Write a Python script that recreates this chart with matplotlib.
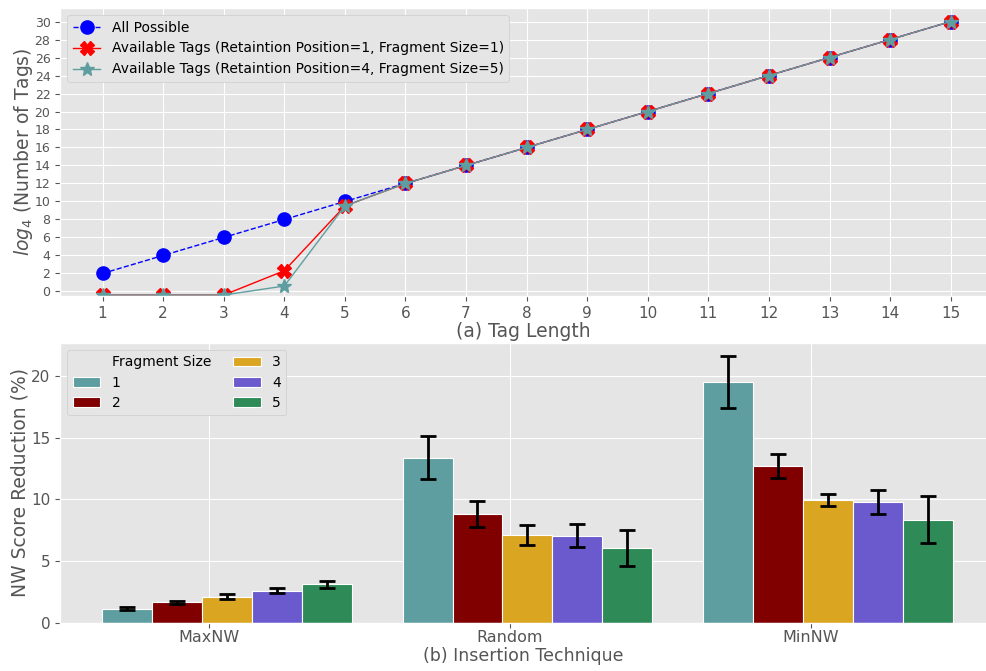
import numpy as np
import matplotlib
matplotlib.use('Agg')
import matplotlib.pyplot as plt
from matplotlib.patches import Rectangle

plt.style.use('ggplot')

# (a) tag length data
tag_len = list(range(1, 16))
all_possible = [2, 4, 6, 8, 10, 12, 14, 16, 18, 20, 22, 24, 26, 28, 30]
avail_p1_f1 = [-0.4, -0.4, -0.4, 2.3, 9.5, 12, 14, 16, 18, 20, 22, 24, 26, 28, 30]
avail_p4_f5 = [-0.4, -0.4, -0.4, 0.6, 9.5, 12, 14, 16, 18, 20, 22, 24, 26, 28, 30]

# (b) insertion technique data
techniques = ['MaxNW', 'Random', 'MinNW']
frag_sizes = ['1', '2', '3', '4', '5']
means = [
    [1.15, 13.4, 19.5],
    [1.65, 8.85, 12.7],
    [2.1, 7.1, 9.95],
    [2.6, 7.05, 9.8],
    [3.1, 6.05, 8.35],
]
errs = [
    [0.15, 1.75, 2.1],
    [0.15, 1.05, 1.0],
    [0.2, 0.8, 0.5],
    [0.2, 0.95, 0.95],
    [0.25, 1.45, 1.9],
]
bar_colors = ['cadetblue', 'maroon', 'goldenrod', 'slateblue', 'seagreen']

fig = plt.figure(figsize=(9.87, 6.71), dpi=100)
ax1 = fig.add_axes([0.061, 0.559, 0.939, 0.429])
ax2 = fig.add_axes([0.061, 0.072, 0.939, 0.417])

ax1.plot(tag_len, all_possible, 'o--', color='blue', markersize=9.5, linewidth=1,
         label='All Possible')
ax1.plot(tag_len, avail_p1_f1, 'X-', color='red', markersize=9.5, linewidth=1,
         label='Available Tags (Retaintion Position=1, Fragment Size=1)')
ax1.plot(tag_len, avail_p4_f5, '*-', color='cadetblue', markersize=10, linewidth=1,
         label='Available Tags (Retaintion Position=4, Fragment Size=5)')
ax1.set_xlim(0.3, 15.6)
ax1.set_ylim(-0.5, 31.5)
ax1.set_xticks(tag_len)
ax1.set_yticks(range(0, 31, 2))
ax1.tick_params(axis='x', labelsize=11)
ax1.tick_params(axis='y', labelsize=9)
ax1.set_xlabel('(a) Tag Length', fontsize=13.5, labelpad=1)
ax1.set_ylabel('$log_4$ (Number of Tags)', fontsize=13.5, labelpad=0)
ax1.legend(loc='upper left', fontsize=10, facecolor='#e5e5e5', framealpha=1)

x = np.arange(len(techniques))
w = 0.166
for i in range(len(frag_sizes)):
    ax2.bar(x + (i - 2) * w + 0.058, means[i], width=w, color=bar_colors[i],
            edgecolor='white', linewidth=0.8, label=frag_sizes[i],
            yerr=errs[i], capsize=6,
            error_kw=dict(ecolor='black', elinewidth=2, capthick=2))
ax2.set_xticks(x)
ax2.set_xticklabels(techniques)
ax2.set_xlim(-0.496, 2.587)
ax2.set_ylim(0, 22.7)
ax2.tick_params(axis='x', labelsize=11.5, pad=2)
ax2.tick_params(axis='y', labelsize=11)
ax2.set_xlabel('(b) Insertion Technique', fontsize=12.5, labelpad=1)
ax2.set_ylabel('NW Score Reduction (%)', fontsize=13.5, labelpad=1)

# legend title sits in the first column as a blank entry
handles, labels = ax2.get_legend_handles_labels()
blank = Rectangle((0, 0), 1, 1, fc='none', ec='none')
ax2.legend([blank] + handles, ['Fragment Size'] + labels, loc='upper left',
           ncol=2, fontsize=10, labelspacing=0.45, columnspacing=1.6,
           facecolor='#e5e5e5', framealpha=1)

plt.savefig('out.png', dpi=100)
plt.close()
